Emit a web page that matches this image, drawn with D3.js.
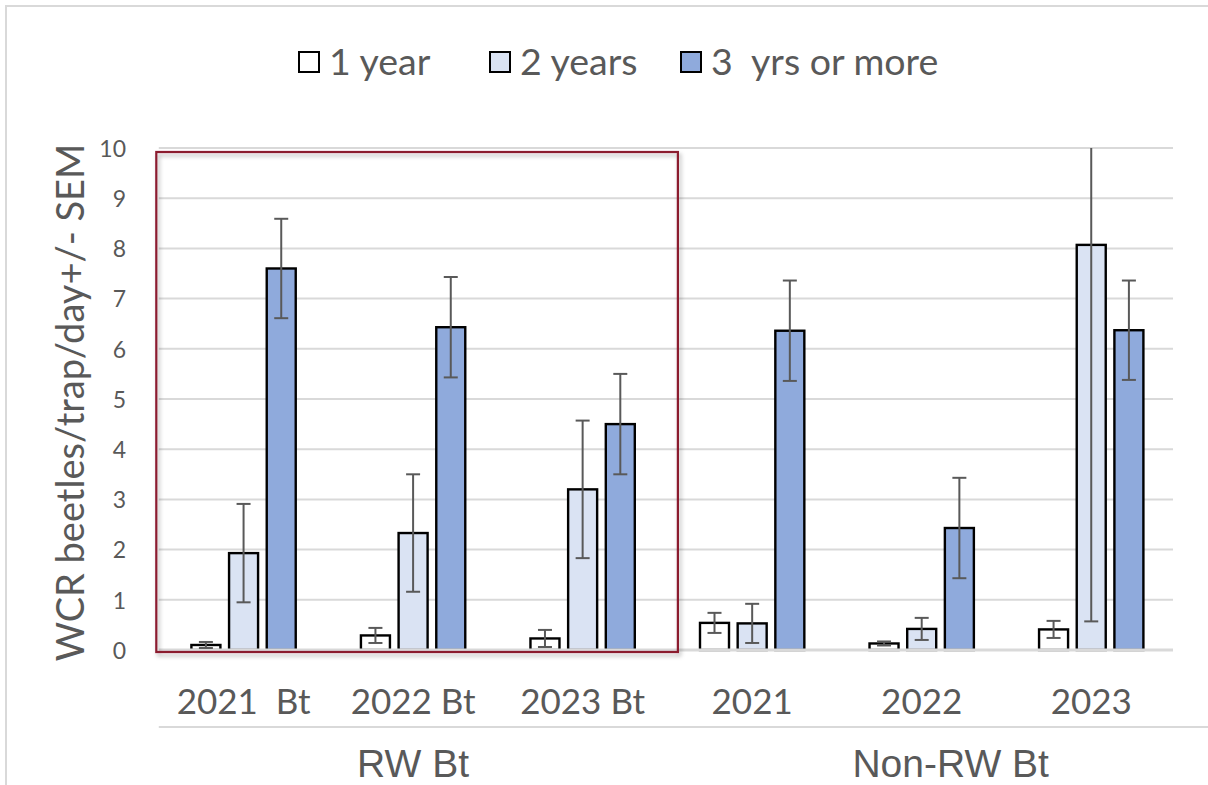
<!DOCTYPE html>
<html>
<head>
<meta charset="utf-8">
<script src="https://cdn.jsdelivr.net/npm/d3@7"></script>
<style>
  html, body { margin: 0; padding: 0; background: #fff; }
  svg { display: block; }
  text { fill: #595959; }
</style>
</head>
<body>
<svg id="chart" width="1208" height="785"></svg>
<script>
// Category axis: year labels and their grouping
const categories = ["2021  Bt", "2022 Bt", "2023 Bt", "2021", "2022", "2023"];
const groupLabels = ["RW Bt", "Non-RW Bt"];
const groupSpans = [3, 3];

// Series (years of continuous corn)
const seriesNames = ["1 year", "2 years", "3  yrs or more"];
const seriesColors = ["#ffffff", "#dae3f3", "#8faadc"];

// Mean WCR beetles/trap/day and SEM
const oneYear = [0.10, 0.29, 0.23, 0.54, 0.13, 0.41];
const oneYearSem = [0.06, 0.15, 0.17, 0.20, 0.04, 0.17];
const twoYears = [1.93, 2.33, 3.20, 0.53, 0.42, 8.07];
const twoYearsSem = [0.98, 1.17, 1.37, 0.39, 0.22, 7.50];
const threeYears = [7.60, 6.43, 4.50, 6.36, 2.43, 6.37];
const threeYearsSem = [0.99, 1.00, 1.00, 1.00, 1.00, 0.99];

const yTicks = [0, 1, 2, 3, 4, 5, 6, 7, 8, 9, 10];
const yTitle = "WCR beetles/trap/day+/- SEM";

const means = [oneYear, twoYears, threeYears];
const sems = [oneYearSem, twoYearsSem, threeYearsSem];

const rows = [];
categories.forEach((c, i) => {
  seriesNames.forEach((s, j) => {
    rows.push({ cat: c, series: s, si: j, value: means[j][i], sem: sems[j][i] });
  });
});

const svg = d3.select("#chart");
const calibriLike = "Lato, 'Open Sans', sans-serif";
const arialLike = "'Liberation Sans', Arial, sans-serif";

// Chart area frame
svg.append("rect")
  .attr("x", 6).attr("y", 6).attr("width", 1220).attr("height", 800)
  .attr("fill", "#fff").attr("stroke", "#d9d9d9").attr("stroke-width", 2);

const x0 = d3.scaleBand().domain(categories).range([158.8, 1176]).padding(0);
const bw = x0.bandwidth();
const x1 = d3.scaleBand().domain(seriesNames)
  .range([bw / 2 - 56.5, bw / 2 + 56.5])
  .paddingInner(0.23).paddingOuter(0.115);
const y = d3.scaleLinear().domain([0, 10]).range([650, 148]);

// Gridlines
svg.append("g")
  .selectAll("line").data(yTicks.filter(t => t > 0)).join("line")
  .attr("x1", 158.8).attr("x2", 1173)
  .attr("y1", d => y(d)).attr("y2", d => y(d))
  .attr("stroke", "#d9d9d9").attr("stroke-width", 2);

// Y axis tick labels
const yAxis = d3.axisLeft(y).tickValues(yTicks).tickSize(0).tickPadding(0).tickFormat(d3.format("d"));
const yg = svg.append("g").attr("transform", "translate(126,0)").call(yAxis);
yg.select(".domain").remove();
yg.selectAll("text")
  .attr("font-family", calibriLike).attr("font-size", 23)
  .attr("fill", "#595959").attr("dy", "0.36em");

// Y axis title
svg.append("text")
  .attr("transform", `translate(84,${(145 + 660) / 2}) rotate(-90)`)
  .attr("text-anchor", "middle")
  .attr("font-family", calibriLike).attr("font-size", 38)
  .text(yTitle);

// Bars
const bars = svg.append("g");
bars.selectAll("rect").data(rows).join("rect")
  .attr("x", d => x0(d.cat) + x1(d.series))
  .attr("width", x1.bandwidth())
  .attr("y", d => y(d.value))
  .attr("height", d => y(0) - y(d.value))
  .attr("fill", d => seriesColors[d.si])
  .attr("stroke", "#000").attr("stroke-width", 2.4);

// Baseline drawn over the bar bottoms
svg.append("line")
  .attr("x1", 158.8).attr("x2", 1173)
  .attr("y1", y(0)).attr("y2", y(0))
  .attr("stroke", "#d9d9d9").attr("stroke-width", 3);

// Error bars (clipped at the top of the value axis)
const yMax = y.domain()[1];
const capHalf = 7;
const eg = svg.append("g").attr("stroke", "#595959").attr("stroke-width", 2);
rows.forEach(d => {
  const cx = x0(d.cat) + x1(d.series) + x1.bandwidth() / 2;
  const hi = d.value + d.sem;
  const lo = Math.max(0, d.value - d.sem);
  const top = Math.min(hi, yMax);
  eg.append("line").attr("x1", cx).attr("x2", cx).attr("y1", y(top)).attr("y2", y(lo));
  if (hi <= yMax) {
    eg.append("line").attr("x1", cx - capHalf).attr("x2", cx + capHalf).attr("y1", y(hi)).attr("y2", y(hi));
  }
  eg.append("line").attr("x1", cx - capHalf).attr("x2", cx + capHalf).attr("y1", y(lo)).attr("y2", y(lo));
});

// Highlight box round the RW Bt groups
const defs = svg.append("defs");
const f = defs.append("filter").attr("id", "boxShadow")
  .attr("x", "-5%").attr("y", "-5%").attr("width", "110%").attr("height", "110%");
f.append("feDropShadow").attr("dx", 2).attr("dy", 3).attr("stdDeviation", 2)
  .attr("flood-color", "#000").attr("flood-opacity", 0.3);
const boxLeft = x0(categories[0]) - 2.5;
const boxRight = x0(categories[2]) + bw + 10.5;
svg.append("rect")
  .attr("x", boxLeft).attr("y", y(10) + 4)
  .attr("width", boxRight - boxLeft).attr("height", y(0) - y(10) - 2)
  .attr("fill", "none").attr("stroke", "#8b1a2e").attr("stroke-width", 2.2)
  .attr("filter", "url(#boxShadow)");

// Category labels
svg.append("g").selectAll("text").data(categories).join("text")
  .attr("x", d => x0(d) + bw / 2)
  .attr("y", 714)
  .attr("text-anchor", "middle")
  .attr("font-family", calibriLike).attr("font-size", 35)
  .style("white-space", "pre")
  .text(d => d);

// Separator between the two label levels
svg.append("line")
  .attr("x1", 158.8).attr("x2", 1208)
  .attr("y1", 727).attr("y2", 727)
  .attr("stroke", "#d9d9d9").attr("stroke-width", 2);

// Group labels (second one sits a little right of its span centre)
const groupShift = [0, 29];
let start = 0;
groupLabels.forEach((g, i) => {
  const first = categories[start];
  const last = categories[start + groupSpans[i] - 1];
  const cx = (x0(first) + x0(last) + bw) / 2 + groupShift[i];
  svg.append("text")
    .attr("x", cx).attr("y", 777)
    .attr("text-anchor", "middle")
    .attr("font-family", arialLike).attr("font-size", 39)
    .text(g);
  start += groupSpans[i];
});

// Legend
const legendX = [299, 490, 681];
const lg = svg.append("g");
seriesNames.forEach((s, i) => {
  lg.append("rect")
    .attr("x", legendX[i]).attr("y", 52).attr("width", 20).attr("height", 20)
    .attr("fill", seriesColors[i]).attr("stroke", "#000").attr("stroke-width", 2);
  lg.append("text")
    .attr("x", legendX[i] + 30).attr("y", 75)
    .attr("font-family", calibriLike).attr("font-size", 37.5)
    .style("white-space", "pre")
    .text(s);
});
</script>
</body>
</html>
